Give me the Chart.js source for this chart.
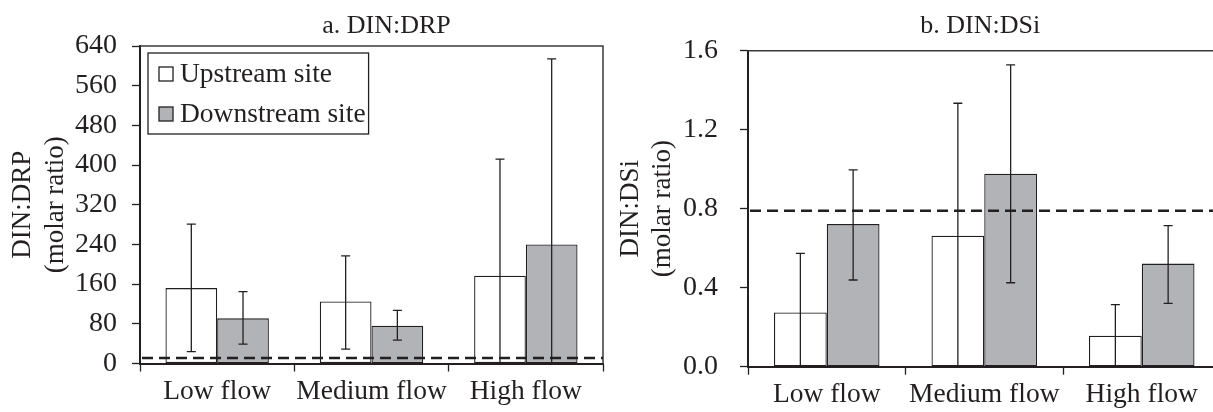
<!DOCTYPE html>
<html>
<head>
<meta charset="utf-8">
<script src="https://cdn.jsdelivr.net/npm/chart.js@4.4.1/dist/chart.umd.min.js"></script>
<style>
  html, body { margin: 0; padding: 0; background: #fff; overflow: hidden; }
  #wrap { position: relative; width: 1213px; height: 412px; overflow: hidden; background: #fff; }
  #leftBox { position: absolute; left: 0; top: 0; width: 608px; height: 412px; }
  #rightBox { position: absolute; left: 608px; top: 0; width: 632px; height: 412px; }
</style>
</head>
<body>
<div id="wrap">
  <div id="leftBox"><canvas id="drpChart" width="608" height="412"></canvas></div>
  <div id="rightBox"><canvas id="dsiChart" width="632" height="412"></canvas></div>
</div>
<script>
// categories shared by both panels
const categories = ['Low flow', 'Medium flow', 'High flow'];
const seriesNames = ['Upstream site', 'Downstream site'];

// panel a: DIN:DRP (means, error bar ends)
const drpUp = [152, 125, 177];
const drpUpHigh = [281, 217, 412];
const drpUpLow = [24, 29, -60];
const drpDown = [91, 76, 240];
const drpDownHigh = [145, 107, 614];
const drpDownLow = [39, 47, -134];
const drpRef = 11;
const drpTicks = [0, 640, 80]; // min, max, step

// panel b: DIN:DSi
const dsiUp = [0.275, 0.663, 0.157];
const dsiUpHigh = [0.574, 1.334, 0.314];
const dsiUpLow = [-0.03, -0.01, -0.01];
const dsiDown = [0.722, 0.977, 0.522];
const dsiDownHigh = [0.997, 1.528, 0.714];
const dsiDownLow = [0.439, 0.425, 0.321];
const dsiRef = 0.79;
const dsiTicks = [0, 1.6, 0.4];

const INK = '#231f20';
const GREY = '#b2b3b6';
const FAMILY = "'Liberation Serif', 'Times New Roman', serif";

// dashed reference line across the plot
const refLine = {
  id: 'refLine',
  afterDatasetsDraw(chart, args, opts) {
    const { ctx, chartArea } = chart;
    const y = chart.scales.y.getPixelForValue(opts.value);
    ctx.save();
    ctx.strokeStyle = INK;
    ctx.lineWidth = 2.5;
    ctx.setLineDash([11, 6]);
    ctx.beginPath();
    ctx.moveTo(chartArea.left + 2, y);
    ctx.lineTo(chartArea.right, y);
    ctx.stroke();
    ctx.restore();
  }
};

// error bars, clipped to the plot like the original
const errorBars = {
  id: 'errorBars',
  afterDatasetsDraw(chart) {
    const { ctx, chartArea } = chart;
    const yScale = chart.scales.y;
    ctx.save();
    ctx.beginPath();
    ctx.rect(chartArea.left, chartArea.top - 3, chartArea.right - chartArea.left, chartArea.bottom - chartArea.top + 2);
    ctx.clip();
    ctx.strokeStyle = INK;
    ctx.lineWidth = 1.3;
    chart.data.datasets.forEach((ds, i) => {
      chart.getDatasetMeta(i).data.forEach((bar, j) => {
        const yHi = yScale.getPixelForValue(ds.errHigh[j]);
        const yLo = yScale.getPixelForValue(ds.errLow[j]);
        ctx.beginPath();
        ctx.moveTo(bar.x, yHi); ctx.lineTo(bar.x, yLo);
        ctx.moveTo(bar.x - 4.5, yHi); ctx.lineTo(bar.x + 4.5, yHi);
        ctx.moveTo(bar.x - 4.5, yLo); ctx.lineTo(bar.x + 4.5, yLo);
        ctx.stroke();
      });
    });
    ctx.restore();
  }
};

// top and right frame lines
const frame = {
  id: 'frame',
  beforeDatasetsDraw(chart) {
    const { ctx, chartArea } = chart;
    ctx.save();
    ctx.strokeStyle = '#3a3a3a';
    ctx.lineWidth = 1.5;
    ctx.beginPath();
    ctx.moveTo(chartArea.left, chartArea.top);
    ctx.lineTo(chartArea.right, chartArea.top);
    ctx.lineTo(chartArea.right, chartArea.bottom);
    ctx.stroke();
    ctx.restore();
  }
};

// panel title over the plot
const panelTitle = {
  id: 'panelTitle',
  afterDraw(chart, args, opts) {
    const { ctx, chartArea } = chart;
    ctx.save();
    ctx.fillStyle = INK;
    ctx.font = `26px ${FAMILY}`;
    ctx.textAlign = 'center';
    ctx.textBaseline = 'middle';
    ctx.fillText(opts.text, (chartArea.left + chartArea.right) / 2 + opts.dx, 26);
    ctx.restore();
  }
};

// boxed legend inside the plot (panel a only)
const boxLegend = {
  id: 'boxLegend',
  afterDraw(chart, args, opts) {
    if (!opts.show) return;
    const { ctx, chartArea } = chart;
    ctx.save();
    ctx.font = `27.5px ${FAMILY}`;
    const widest = Math.max(...chart.data.datasets.map(d => ctx.measureText(d.label).width));
    const left = chartArea.left + 8, top = chartArea.top + 7;
    const w = 11 + 14 + 7 + widest + 3, h = 81;
    ctx.fillStyle = '#fff';
    ctx.fillRect(left, top, w, h);
    ctx.strokeStyle = INK;
    ctx.lineWidth = 1.3;
    ctx.strokeRect(left, top, w, h);
    chart.data.datasets.forEach((ds, i) => {
      const cy = top + 21 + i * 40;
      ctx.fillStyle = ds.backgroundColor;
      ctx.fillRect(left + 11, cy - 7, 14, 14);
      ctx.strokeRect(left + 11, cy - 7, 14, 14);
      ctx.fillStyle = INK;
      ctx.textBaseline = 'middle';
      ctx.fillText(ds.label, left + 32, cy + 1);
    });
    ctx.restore();
  }
};

function makePanel(canvasId, o) {
  return new Chart(document.getElementById(canvasId), {
    type: 'bar',
    data: {
      labels: categories,
      datasets: [
        { label: seriesNames[0], data: o.up, errHigh: o.upHigh, errLow: o.upLow, backgroundColor: '#ffffff' },
        { label: seriesNames[1], data: o.down, errHigh: o.downHigh, errLow: o.downLow, backgroundColor: GREY }
      ]
    },
    plugins: [frame, refLine, errorBars, panelTitle, boxLegend],
    options: {
      responsive: false,
      animation: false,
      devicePixelRatio: 1,
      layout: { padding: o.padding },
      datasets: {
        bar: {
          borderColor: INK,
          borderWidth: 1.3,
          borderSkipped: false,
          categoryPercentage: 0.67,
          barPercentage: 1
        }
      },
      plugins: {
        legend: { display: false },
        tooltip: { enabled: false },
        title: { display: false },
        refLine: { value: o.ref },
        panelTitle: { text: o.title, dx: o.titleDx },
        boxLegend: { show: o.legend }
      },
      scales: {
        x: {
          ticks: {
            color: INK,
            font: { family: FAMILY, size: 27.5 },
            padding: 4,
            autoSkip: false,
            maxRotation: 0,
            minRotation: 0
          },
          grid: { display: true, drawOnChartArea: false, drawTicks: true, tickLength: 8, tickColor: INK, tickWidth: 1.3, offset: true },
          border: { display: true, color: INK, width: 2 },
          afterFit(scale) { scale.height = o.xHeight; }
        },
        y: {
          min: o.ticks[0],
          max: o.ticks[1],
          ticks: {
            stepSize: o.ticks[2],
            color: INK,
            font: { family: FAMILY, size: 28 },
            padding: o.tickPad,
            callback: o.fmt
          },
          grid: { display: true, drawOnChartArea: false, drawTicks: true, tickLength: 8, tickColor: INK, tickWidth: 1.3 },
          border: { display: true, color: INK, width: 2 },
          title: {
            display: true,
            text: o.yTitle,
            color: INK,
            font: { family: FAMILY, size: 27, lineHeight: 1.2 },
            padding: { top: o.yTitlePad, bottom: 0 }
          },
          afterFit(scale) { scale.width = 140; }
        }
      }
    }
  });
}

makePanel('drpChart', {
  up: drpUp, upHigh: drpUpHigh, upLow: drpUpLow,
  down: drpDown, downHigh: drpDownHigh, downLow: drpDownLow,
  ref: drpRef, ticks: drpTicks,
  fmt: v => v,
  title: 'a. DIN:DRP', titleDx: 15,
  yTitle: ['DIN:DRP', '(molar ratio)'], yTitlePad: 7.2,
  tickPad: 15, xHeight: 48.5,
  padding: { left: 0, top: 46, right: 5, bottom: 0 },
  legend: true
});

makePanel('dsiChart', {
  up: dsiUp, upHigh: dsiUpHigh, upLow: dsiUpLow,
  down: dsiDown, downHigh: dsiDownHigh, downLow: dsiDownLow,
  ref: dsiRef, ticks: dsiTicks,
  fmt: v => Number(v).toFixed(1),
  title: 'b. DIN:DSi', titleDx: -4,
  yTitle: ['DIN:DSi', '(molar ratio)'], yTitlePad: 6.7,
  tickPad: 22, xHeight: 45.3,
  padding: { left: 0, top: 50.7, right: 19.5, bottom: 0 },
  legend: false
});
</script>
</body>
</html>
